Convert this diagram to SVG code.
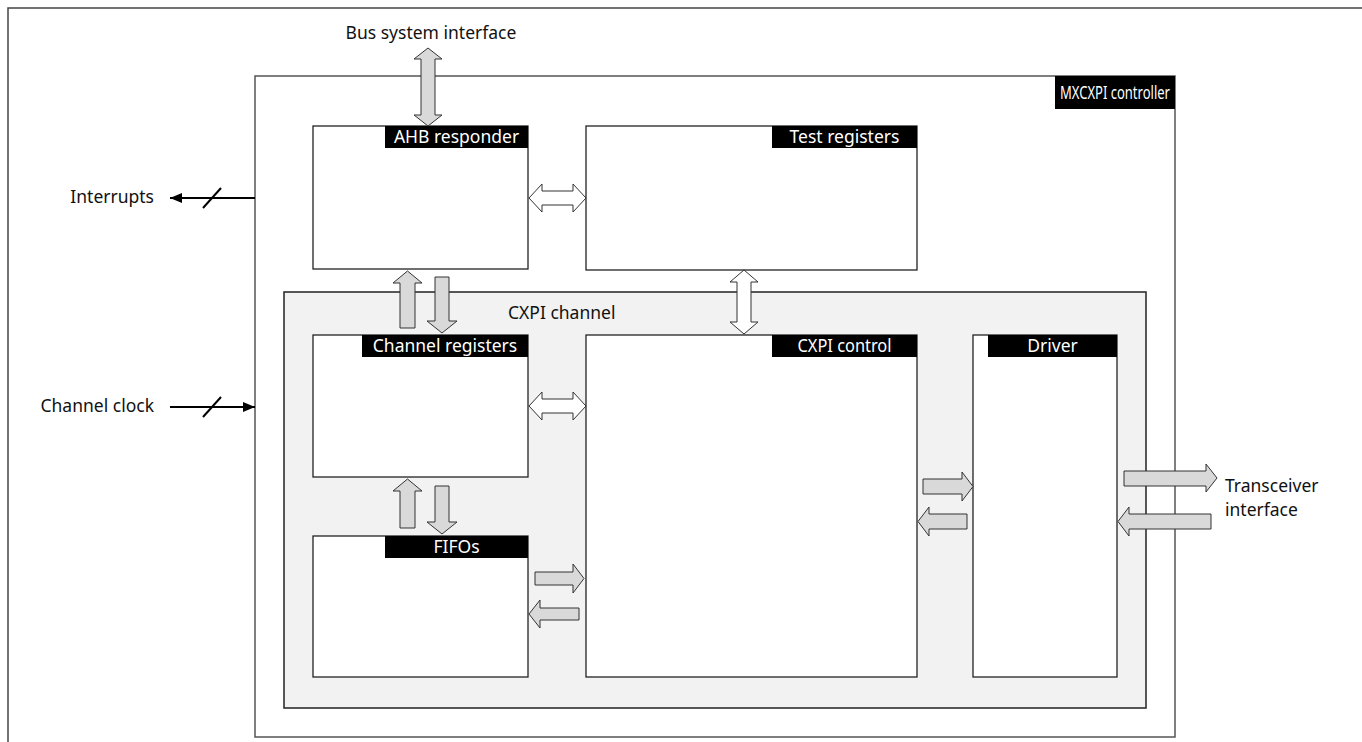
<svg xmlns="http://www.w3.org/2000/svg" width="1362" height="742" viewBox="0 0 1362 742">
<style>
text{font-family:"Noto Sans","Liberation Sans",sans-serif;font-size:17.5px;fill:#111}
.lbl{fill:#fff;text-anchor:middle}
.box{fill:#fff;stroke:#222;stroke-width:1.3}
.tag{fill:#000}
.ga{fill:#d9d9d9;stroke:#333;stroke-width:1}
.wa{fill:#fff;stroke:#333;stroke-width:1}
.ln{stroke:#000;stroke-width:2;fill:none}
</style>
<defs>
<marker id="ah" viewBox="0 0 12 10" refX="12" refY="5" markerWidth="12" markerHeight="10" markerUnits="userSpaceOnUse" orient="auto">
<path d="M0,0 L12,5 L0,10 Z" fill="#000"/>
</marker>
</defs>
<g id="frame">
<path d="M8,742 V8 H1362" fill="none" stroke="#444" stroke-width="1.5"/>
</g>
<g id="mxcxpi">
<rect x="255" y="76" width="920" height="661" fill="#fff" stroke="#555" stroke-width="1.5"/>
<rect class="tag" x="1055" y="76" width="120" height="33"/>
<text class="lbl" x="1115" y="99" textLength="110" lengthAdjust="spacingAndGlyphs">MXCXPI controller</text>
</g>
<g id="cxpi-channel">
<rect x="284" y="292" width="862" height="416" fill="#f2f2f2" stroke="#222" stroke-width="1.5"/>
<text x="508" y="319">CXPI channel</text>
</g>
<g id="ahb-responder">
<rect class="box" x="313" y="126" width="215" height="143"/>
<rect class="tag" x="385" y="126" width="143" height="22"/>
<text class="lbl" x="456.5" y="143">AHB responder</text>
</g>
<g id="test-registers">
<rect class="box" x="586" y="126" width="331" height="144"/>
<rect class="tag" x="772" y="126" width="145" height="22"/>
<text class="lbl" x="844.5" y="143">Test registers</text>
</g>
<g id="channel-registers">
<rect class="box" x="313" y="335" width="215" height="142"/>
<rect class="tag" x="362" y="335" width="166" height="22"/>
<text class="lbl" x="445" y="352">Channel registers</text>
</g>
<g id="cxpi-control">
<rect class="box" x="586" y="335" width="331" height="342"/>
<rect class="tag" x="772" y="335" width="145" height="22"/>
<text class="lbl" x="844.5" y="352" textLength="94" lengthAdjust="spacingAndGlyphs">CXPI control</text>
</g>
<g id="driver">
<rect class="box" x="973" y="335" width="144" height="342"/>
<rect class="tag" x="988" y="335" width="129" height="22"/>
<text class="lbl" x="1052.5" y="352">Driver</text>
</g>
<g id="fifos">
<rect class="box" x="313" y="536" width="215" height="141"/>
<rect class="tag" x="385" y="536" width="143" height="22"/>
<text class="lbl" x="456.5" y="553">FIFOs</text>
</g>
<g id="connectors">
<polygon class="ga" points="428,48 442,59 435,59 435,115 442,115 428,126 414,115 421,115 421,59 414,59"/>
<line class="ln" x1="255" y1="198" x2="170" y2="198" marker-end="url(#ah)"/>
<line x1="203" y1="208" x2="221" y2="188" stroke="#000" stroke-width="2"/>
<line class="ln" x1="170" y1="407" x2="255" y2="407" marker-end="url(#ah)"/>
<line x1="203" y1="417" x2="221" y2="397" stroke="#000" stroke-width="2"/>
<polygon class="wa" points="529,198 542,184 542,191 573,191 573,184 586,198 573,212 573,205 542,205 542,212"/>
<polygon class="wa" points="744,270 758,282 751,282 751,322 758,322 744,334 730,322 737,322 737,282 730,282"/>
<polygon class="wa" points="529,406 542,392 542,399 573,399 573,392 586,406 573,420 573,413 542,413 542,420"/>
<polygon class="ga" points="407.5,271 422,283 415,283 415,328 400,328 400,283 393,283"/>
<polygon class="ga" points="442,333 457,321 449,321 449,277 435,277 435,321 427,321"/>
<polygon class="ga" points="407.5,479 422,491 415,491 415,528 400,528 400,491 393,491"/>
<polygon class="ga" points="442,534 457,522 449,522 449,486 435,486 435,522 427,522"/>
<polygon class="ga" points="535,572 573,572 573,564 584,578.5 573,593 573,585 535,585"/>
<polygon class="ga" points="579,608 540,608 540,600 529,614 540,628 540,620 579,620"/>
<polygon class="ga" points="923,479 962,479 962,472 973,486.5 962,501 962,494 923,494"/>
<polygon class="ga" points="967,514 929,514 929,507 918,521.5 929,536 929,529 967,529"/>
<polygon class="ga" points="1124,471 1206,471 1206,464 1217,478 1206,492 1206,486 1124,486"/>
<polygon class="ga" points="1211,514 1129,514 1129,507 1118,521.5 1129,536 1129,529 1211,529"/>
</g>
<g id="labels">
<text x="431" y="39" text-anchor="middle">Bus system interface</text>
<text x="154" y="203" text-anchor="end">Interrupts</text>
<text x="154" y="412" text-anchor="end">Channel clock</text>
<text x="1225" y="492">Transceiver</text>
<text x="1225" y="516">interface</text>
</g>
</svg>
